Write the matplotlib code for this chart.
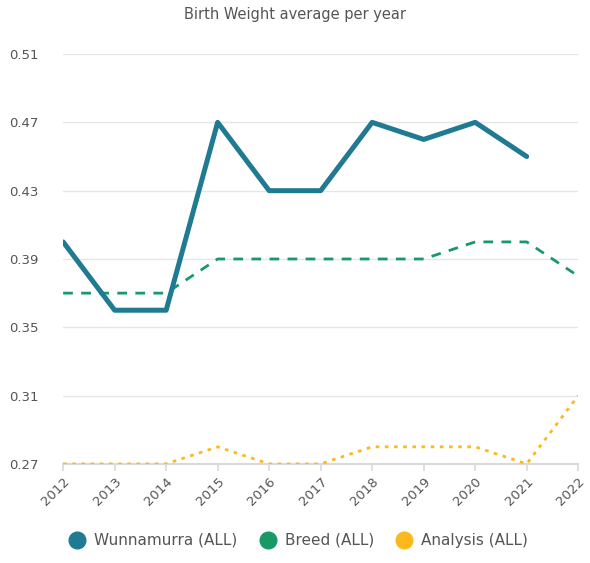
import matplotlib
matplotlib.use("Agg")
import matplotlib.pyplot as plt
from matplotlib.lines import Line2D

years = [2012, 2013, 2014, 2015, 2016, 2017, 2018, 2019, 2020, 2021, 2022]
wunnamurra = [0.40, 0.36, 0.36, 0.47, 0.43, 0.43, 0.47, 0.46, 0.47, 0.45]
breed = [0.37, 0.37, 0.37, 0.39, 0.39, 0.39, 0.39, 0.39, 0.40, 0.40, 0.38]
analysis = [0.27, 0.27, 0.27, 0.28, 0.27, 0.27, 0.28, 0.28, 0.28, 0.27, 0.31]
yticks = [0.27, 0.31, 0.35, 0.39, 0.43, 0.47, 0.51]

C_W = "#1f7a92"
C_B = "#179a68"
C_A = "#fbb91e"
TXT = "#555555"

fig = plt.figure(figsize=(5.9, 5.63), dpi=100)
ax = fig.add_axes([0.107, 0.176, 0.873, 0.728])

ax.plot(years[:len(wunnamurra)], wunnamurra, color=C_W, lw=3.6,
        solid_joinstyle="round", solid_capstyle="round", zorder=4)
ax.plot(years, breed, color=C_B, lw=2, ls=(0, (3.5, 3)), zorder=3)
ax.plot(years, analysis, color=C_A, lw=2, ls=(0, (1.3, 2)), zorder=3)

ax.set_xlim(2012, 2022)
ax.set_ylim(0.27, 0.51)
ax.set_yticks(yticks)
ax.set_yticklabels([f"{v:.2f}" for v in yticks])
ax.set_xticks(years)
ax.set_xticklabels([str(y) for y in years], rotation=45, ha="right",
                   rotation_mode="anchor")
ax.grid(axis="y", color="#e6e6e6", lw=1)
ax.set_axisbelow(True)
for s in ["top", "right", "left"]:
    ax.spines[s].set_visible(False)
ax.spines["bottom"].set_color("#d9d9d9")
ax.spines["bottom"].set_linewidth(1.5)
ax.tick_params(axis="y", length=0, pad=39, labelsize=9.5, colors=TXT)
ax.tick_params(axis="x", length=5, width=1.2, color="#d9d9d9",
               labelsize=9.5, colors=TXT, pad=3)
for lbl in ax.get_yticklabels():
    lbl.set_horizontalalignment("left")

fig.text(0.5, 0.975, "Birth Weight average per year", ha="center", va="center",
         fontsize=10.5, color=TXT)

handles = [Line2D([], [], marker="o", ls="", color=c, markersize=12, label=l)
           for c, l in [(C_W, "Wunnamurra (ALL)"), (C_B, "Breed (ALL)"),
                        (C_A, "Analysis (ALL)")]]
fig.legend(handles=handles, loc="center", bbox_to_anchor=(0.5, 0.04), ncol=3,
           frameon=False, fontsize=11, handletextpad=0.1, columnspacing=1.0,
           labelcolor=TXT)

fig.savefig("out.png", dpi=100)
